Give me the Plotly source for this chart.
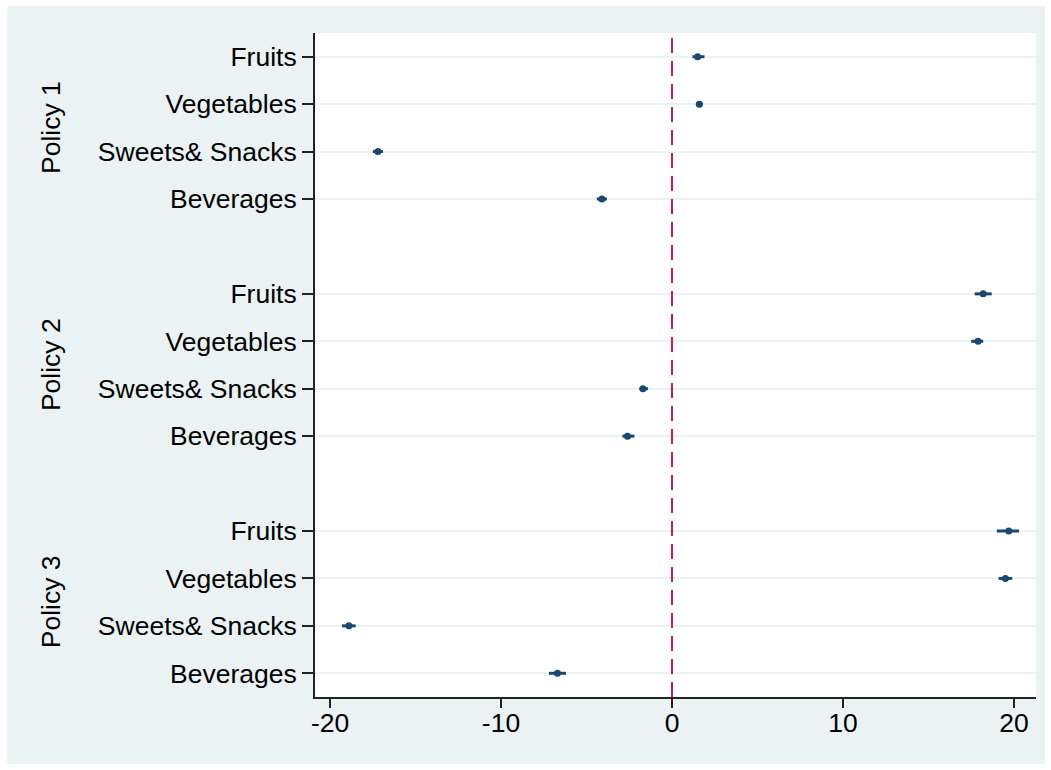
import plotly.graph_objects as go

# Coefficient estimates with 95% confidence intervals by policy and food group
categories = ["Fruits", "Vegetables", "Sweets& Snacks", "Beverages"]
policies = ["Policy 1", "Policy 2", "Policy 3"]

estimates = {
    "Policy 1": [1.5, 1.6, -17.2, -4.1],
    "Policy 2": [18.2, 17.9, -1.7, -2.6],
    "Policy 3": [19.7, 19.5, -18.9, -6.7],
}
ci_low = {
    "Policy 1": [1.2, 1.4, -17.5, -4.4],
    "Policy 2": [17.7, 17.5, -1.9, -2.9],
    "Policy 3": [19.0, 19.1, -19.3, -7.2],
}
ci_high = {
    "Policy 1": [1.9, 1.8, -16.9, -3.8],
    "Policy 2": [18.7, 18.2, -1.4, -2.2],
    "Policy 3": [20.3, 19.9, -18.5, -6.2],
}
x_ticks = [-20, -10, 0, 10, 20]

NAVY = "#1a476f"
BG = "#eaf2f3"
FONT = "Liberation Sans, Arial, sans-serif"
FSIZE = 26.5

xs, ys, plus, minus, tickvals, ticktext = [], [], [], [], [], []
group_centers = []
step = len(categories) + 1
for g, pol in enumerate(policies):
    base = g * step
    group_centers.append(base + (len(categories) - 1) / 2)
    for i, cat in enumerate(categories):
        pos = base + i
        est = estimates[pol][i]
        xs.append(est)
        ys.append(pos)
        plus.append(ci_high[pol][i] - est)
        minus.append(est - ci_low[pol][i])
        tickvals.append(pos)
        ticktext.append(cat)

last_row = len(policies) * step - 2

fig = go.Figure()
fig.add_trace(go.Scatter(
    x=xs, y=ys, mode="markers",
    marker=dict(color=NAVY, size=7, symbol="circle"),
    error_x=dict(type="data", symmetric=False, array=plus, arrayminus=minus,
                 color=NAVY, thickness=3, width=0),
    showlegend=False,
))

shapes = [
    # outer tinted panel with thin white border
    dict(type="rect", xref="paper", yref="paper", layer="below",
         x0=-0.4272, x1=1.0125, y0=-0.1009, y1=1.0407,
         fillcolor=BG, line=dict(width=0)),
    # white plotting region
    dict(type="rect", xref="paper", yref="paper", layer="below",
         x0=0, x1=1, y0=0, y1=1, fillcolor="white", line=dict(width=0)),
    # reference line at zero
    dict(type="line", xref="x", yref="paper", x0=0, x1=0, y0=0, y1=1,
         line=dict(color="#cc1850", width=2, dash="15px,8px")),
]

annotations = [
    dict(text=pol, x=-0.366, xref="paper", y=c, yref="y", showarrow=False,
         textangle=-90, font=dict(family=FONT, size=FSIZE, color="black"),
         xanchor="center", yanchor="middle")
    for pol, c in zip(policies, group_centers)
]

fig.update_layout(
    width=1051, height=770,
    margin=dict(l=315, r=15, t=33, b=73),
    paper_bgcolor="white", plot_bgcolor="white",
    font=dict(family=FONT, size=FSIZE, color="black"),
    shapes=shapes, annotations=annotations,
    xaxis=dict(
        range=[-20.88, 21.29], tickvals=x_ticks,
        ticktext=[str(v) for v in x_ticks],
        showgrid=False, zeroline=False,
        showline=True, linecolor="#222222", linewidth=2,
        ticks="outside", ticklen=9, tickwidth=1.5, tickcolor="#222222",
        tickfont=dict(size=FSIZE), ticklabelstandoff=-8,
    ),
    yaxis=dict(
        range=[last_row + 0.5, -0.5], tickvals=tickvals, ticktext=ticktext,
        showgrid=True, gridcolor=BG, gridwidth=2, zeroline=False,
        showline=True, linecolor="#222222", linewidth=2,
        ticks="outside", ticklen=11, tickwidth=1.5, tickcolor="#222222",
        tickfont=dict(size=FSIZE),
    ),
)

fig.write_html("out.html")
